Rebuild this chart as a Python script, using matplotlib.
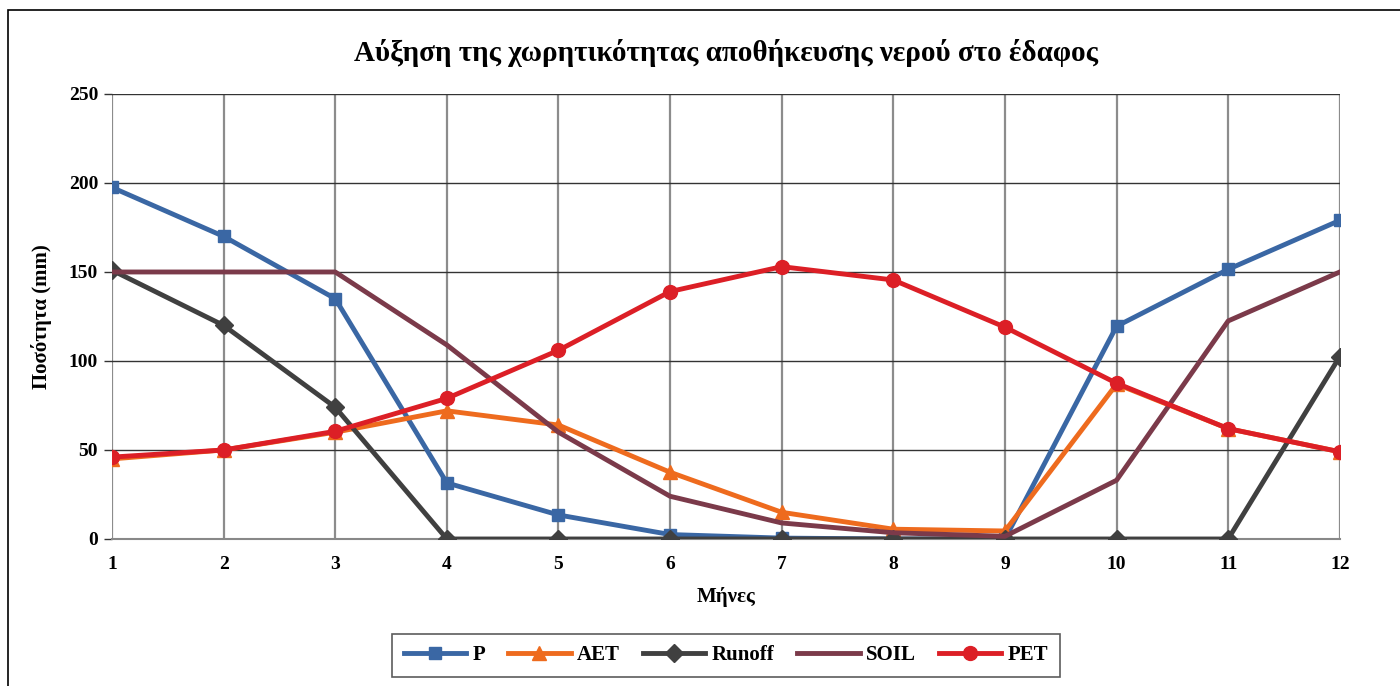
import matplotlib.pyplot as plt
from matplotlib.patches import Rectangle

months = [1, 2, 3, 4, 5, 6, 7, 8, 9, 10, 11, 12]
P = [197.5, 170, 135, 31.5, 13.5, 2.5, 0.5, 0, 0, 119.5, 151.5, 179]
AET = [45, 50, 60, 72, 64, 37.5, 15, 5.5, 4.5, 87, 62, 49]
runoff = [151, 120, 74, 0, 0, 0, 0, 0, 0, 0, 0, 102.5]
soil = [150, 150, 150, 109, 60, 24, 9, 3.5, 1.5, 33, 122.5, 150]
PET = [46, 50, 60.5, 79, 106, 139, 153, 145.5, 119, 87.5, 62, 49]

plt.rcParams['font.family'] = ['Liberation Serif', 'DejaVu Serif']

fig = plt.figure(figsize=(14, 6.86), dpi=100)
ax = fig.add_axes([0.08, 0.2143, 0.877, 0.6487])

# outer frame of the chart area
fig.add_artist(Rectangle((0.006, -0.01), 1.0, 0.996, transform=fig.transFigure,
                         fill=False, edgecolor='black', linewidth=1.2))

ax.plot(months, P, color='#3A67A4', lw=3.5, marker='s', ms=9, label='P', zorder=3)
ax.plot(months, AET, color='#EE6B1E', lw=3.5, marker='^', ms=10, label='AET', zorder=3)
ax.plot(months, runoff, color='#404040', lw=3.5, marker='D', ms=9, label='Runoff', zorder=3)
ax.plot(months, soil, color='#7B3A4A', lw=3.5, label='SOIL', zorder=3)
ax.plot(months, PET, color='#DC1F26', lw=3.5, marker='o', ms=10, label='PET', zorder=4)

ax.set_xlim(1, 12)
ax.set_ylim(0, 250)
ax.set_xticks(months)
ax.set_yticks(range(0, 251, 50))
ax.xaxis.grid(True, color='#8C8C8C', lw=1.6)
ax.yaxis.grid(True, color='#333333', lw=1.0)
ax.set_axisbelow(True)
for s in ['top', 'right', 'left']:
    ax.spines[s].set_visible(False)
ax.spines['bottom'].set_color('#888888')
ax.spines['bottom'].set_linewidth(1.5)
ax.tick_params(axis='y', length=6, width=1, color='#333333', labelsize=14, pad=4)
ax.tick_params(axis='x', length=0, labelsize=14, pad=12)
for t in ax.get_xticklabels() + ax.get_yticklabels():
    t.set_fontweight('bold')

ax.set_title('Αύξηση της χωρητικότητας αποθήκευσης νερού στο έδαφος',
             fontsize=21, fontweight='bold', pad=24)
ax.set_xlabel('Μήνες', fontsize=15, fontweight='bold', labelpad=10)
ax.set_ylabel('Ποσότητα (mm)', fontsize=15, fontweight='bold', labelpad=12)

leg = ax.legend(loc='upper center', bbox_to_anchor=(0.5, -0.19), ncol=5,
                fontsize=15, frameon=True, fancybox=False, edgecolor='#333333',
                handlelength=3.0, handletextpad=0.3, columnspacing=1.1,
                borderpad=0.55)
leg.get_frame().set_linewidth(1.2)
for t in leg.get_texts():
    t.set_fontweight('bold')

fig.savefig('out.png', dpi=100)
